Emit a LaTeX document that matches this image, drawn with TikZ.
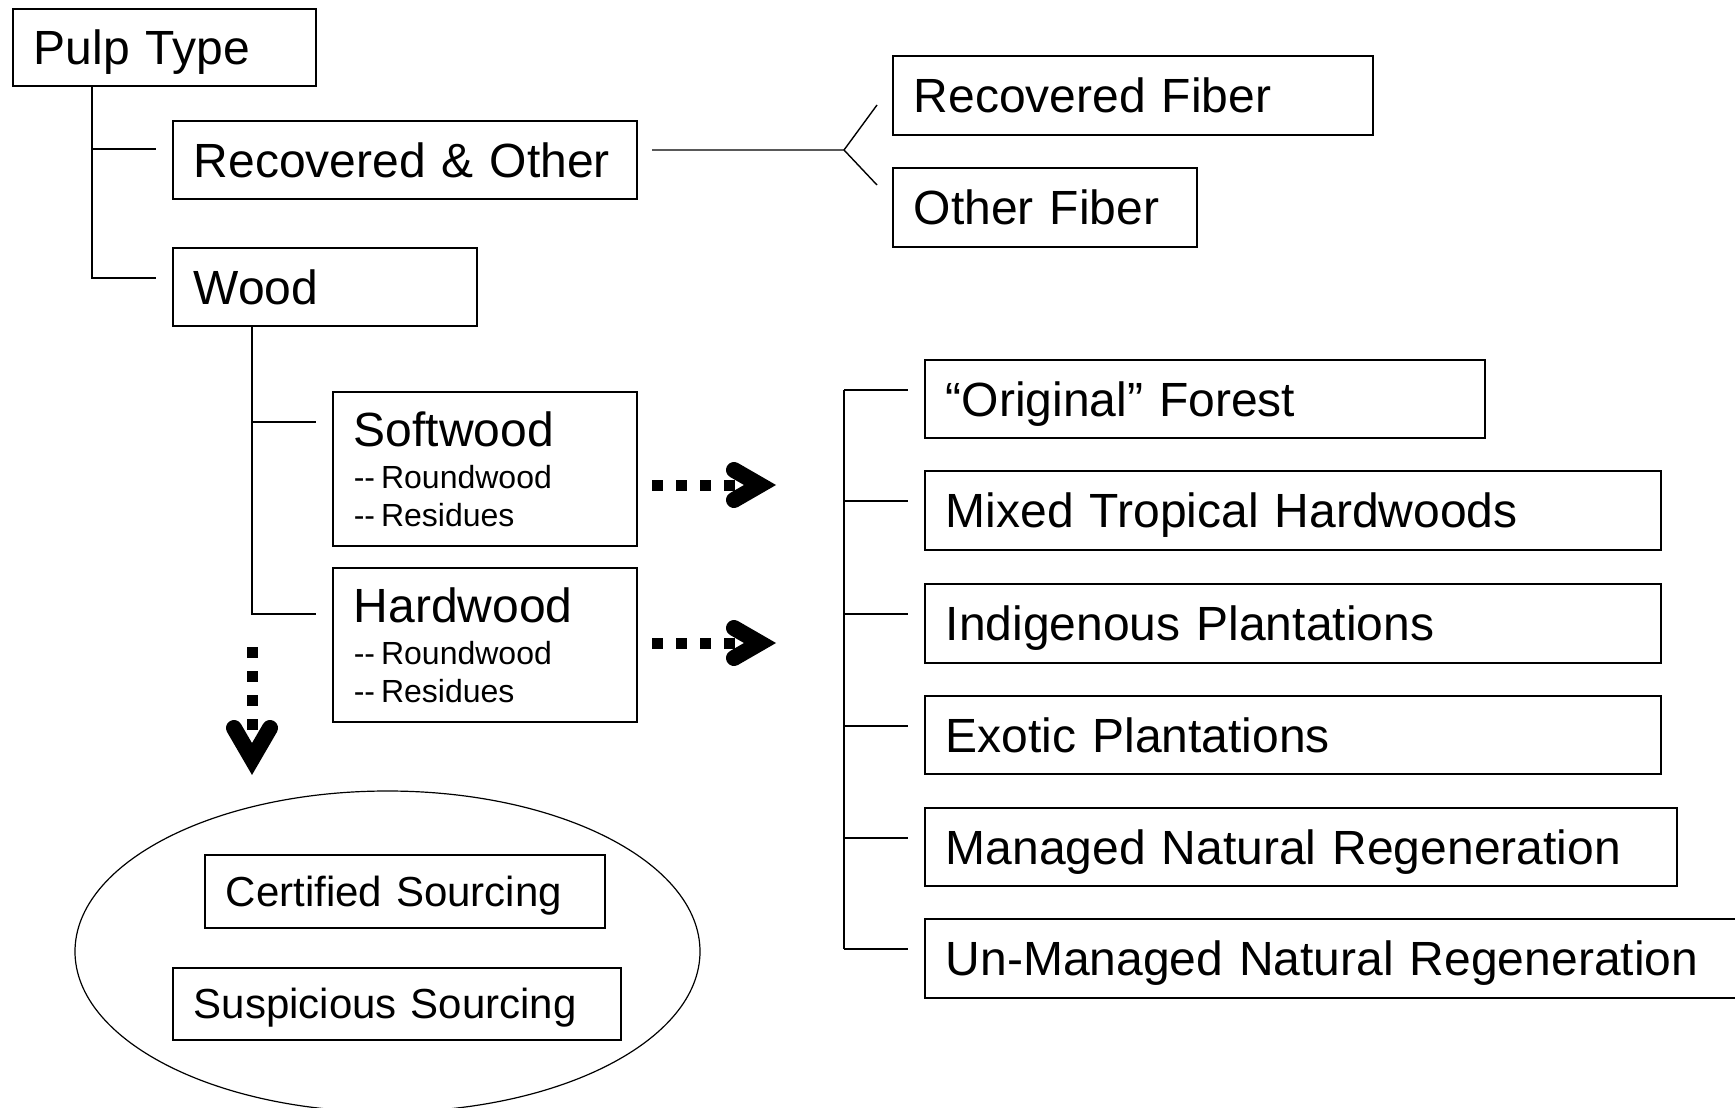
\documentclass[tikz,border=0pt]{standalone}
\usepackage{fontspec}
\setmainfont{Liberation Sans}
\usetikzlibrary{shapes.geometric}
\newcommand\dd{-\kern0pt-\kern3pt}
\newcommand\woodtext[1]{\vbox{\hbox{#1}\baselineskip=21pt\hbox{\fontsize{16}{19}\selectfont\dd Roundwood}\baselineskip=19pt\hbox{\fontsize{16}{19}\selectfont\dd Residues}}}
\tikzset{
  box/.style={draw, line width=0.8pt, rectangle, anchor=north west, inner xsep=10.5pt, inner ysep=0pt, align=left, font=\fontsize{24}{28}\selectfont},
  one/.style={text height=17.2pt, text depth=0pt},
  subone/.style={font=\fontsize{21}{25}\selectfont, text height=15pt, text depth=0pt},
  link/.style={line width=0.7pt},
  dots/.style={line width=5.5pt, dash pattern=on 5.5pt off 6.5pt},
  chev/.style={line width=8pt, line cap=round, line join=miter},
}
\begin{document}
\begin{tikzpicture}[x=0.5pt,y=-0.5pt]
\clip (0,0) rectangle (1735,1108);
% boxes
\node[box,one,text width=130.5pt,minimum height=38.5pt] (pulp) at (12,8) {Pulp Type};
\node[box,one,text width=211pt,minimum height=39pt] (rec) at (172,120) {Recovered \& Other};
\node[box,one,text width=131pt,minimum height=39pt] (wood) at (172,247) {Wood};
\node[box,one,text width=219pt,minimum height=39.5pt] (recfib) at (892,55) {Recovered Fiber};
\node[box,one,text width=131pt,minimum height=39.5pt] (othfib) at (892,167) {Other Fiber};
\node[box,text width=131pt,minimum height=77pt] (soft) at (332,391) {\woodtext{Softwood}};
\node[box,text width=131pt,minimum height=77pt] (hard) at (332,567) {\woodtext{Hardwood}};
\node[box,one,text width=259pt,minimum height=39pt] (orig) at (924,359) {“Original” Forest};
\node[box,one,text width=347pt,minimum height=39.5pt] (mixed) at (924,470) {Mixed Tropical Hardwoods};
\node[box,one,text width=347pt,minimum height=39.5pt] (indig) at (924,583) {Indigenous Plantations};
\node[box,one,text width=347pt,minimum height=39pt] (exotic) at (924,695) {Exotic Plantations};
\node[box,one,text width=355pt,minimum height=39pt] (managed) at (924,807) {Managed Natural Regeneration};
\node[box,one,text width=389pt,minimum height=39.5pt] (unman) at (924,918) {Un-Managed Natural Regeneration};
% ellipse
\node[draw, ellipse, line width=0.6pt, inner sep=0pt, minimum width=312.5pt, minimum height=160.5pt] (pool) at (387.5,951.5) {};
\node[box,subone,text width=179pt,minimum height=36.5pt] (cert) at (204,854) {Certified Sourcing};
\node[box,subone,text width=203pt,minimum height=36pt] (susp) at (172,967) {Suspicious Sourcing};
% coordinates
\coordinate (pa) at (92,85); \coordinate (pb) at (92,278);
\coordinate (pr0) at (92,149); \coordinate (pr1) at (156,149); \coordinate (pw1) at (156,278);
\coordinate (ra) at (652,150); \coordinate (fk) at (844,150);
\coordinate (fu) at (877,105); \coordinate (fd) at (877,185);
\coordinate (wa) at (252,325); \coordinate (wb) at (252,614);
\coordinate (ws0) at (252,422); \coordinate (ws1) at (316,422); \coordinate (wh1) at (316,614);
\coordinate (ta) at (844,390); \coordinate (tb) at (844,949);
\foreach \y/\n in {390/1,501/2,614/3,726/4,838/5,949/6}{
  \coordinate (t\n0) at (844,\y); \coordinate (t\n1) at (908,\y);
}
% tree connectors
\draw[link] (pa) -- (pb) -- (pw1);
\draw[link] (pr0) -- (pr1);
\draw[link] (ra) -- (fk) -- (fu);
\draw[link] (fk) -- (fd);
\draw[link] (wa) -- (wb) -- (wh1);
\draw[link] (ws0) -- (ws1);
\draw[link] (ta) -- (tb);
\foreach \n in {1,...,6}{ \draw[link] (t\n0) -- (t\n1); }
% dotted arrows
\coordinate (a1s) at (652,485); \coordinate (a1e) at (736,485);
\coordinate (a1u) at (734,470); \coordinate (a1t) at (760,485); \coordinate (a1d) at (734,500);
\draw[dots] (a1s) -- (a1e);
\draw[chev] (a1u) -- (a1t) -- (a1d);
\coordinate (a2s) at (652,643); \coordinate (a2e) at (736,643);
\coordinate (a2u) at (734,628); \coordinate (a2t) at (760,643); \coordinate (a2d) at (734,658);
\draw[dots] (a2s) -- (a2e);
\draw[chev] (a2u) -- (a2t) -- (a2d);
\coordinate (a3s) at (252,647); \coordinate (a3e) at (252,731);
\coordinate (a3l) at (234,728); \coordinate (a3t) at (252,759); \coordinate (a3r) at (270,728);
\draw[dots] (a3s) -- (a3e);
\draw[chev] (a3l) -- (a3t) -- (a3r);
\end{tikzpicture}
\end{document}
